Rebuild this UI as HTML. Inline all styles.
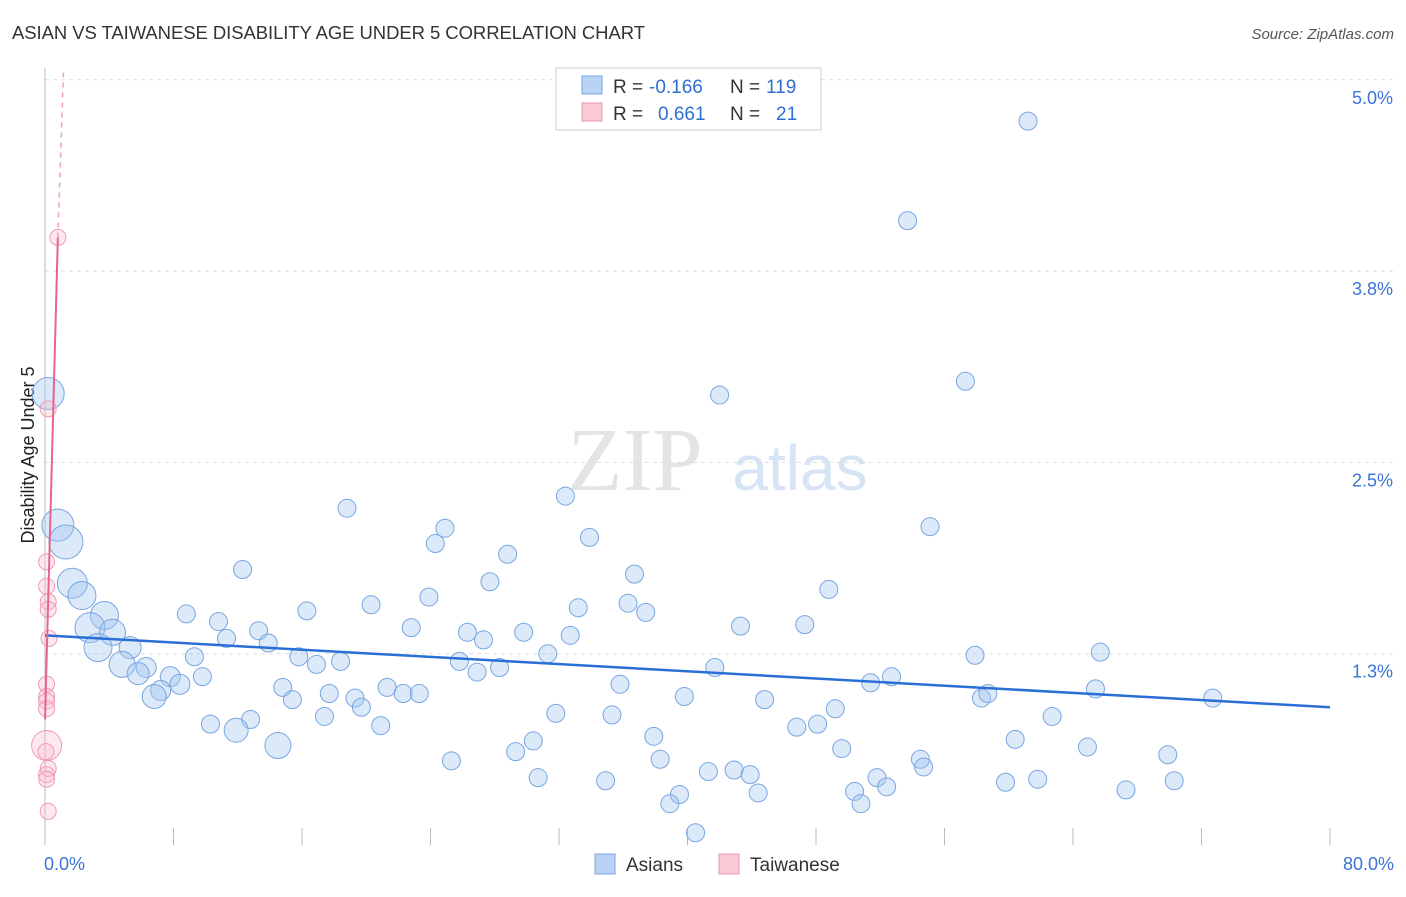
<!DOCTYPE html>
<html><head><meta charset="utf-8"><style>
body{margin:0;background:#fff;font-family:"Liberation Sans",sans-serif}
</style></head><body>
<svg id="c" width="1406" height="892" xmlns="http://www.w3.org/2000/svg">
<text x="12" y="39" font-size="18.5" fill="#333" textLength="633">ASIAN VS TAIWANESE DISABILITY AGE UNDER 5 CORRELATION CHART</text>
<text x="1394" y="39" font-size="15" fill="#555" font-style="italic" text-anchor="end">Source: ZipAtlas.com</text>
<text x="635" y="490" font-size="90" fill="#e4e4e4" font-family="Liberation Serif" text-anchor="middle">ZIP</text>
<text x="800" y="490" font-size="64" fill="#d6e4f5" text-anchor="middle">atlas</text>
<text transform="translate(34,455) rotate(-90)" font-size="18" fill="#222" text-anchor="middle">Disability Age Under 5</text>
<g id="grid"></g><g id="pts"></g><g id="lines"></g>
<g>
<rect x="556" y="68" width="265" height="62" fill="#fff" stroke="#ccc"/>
<rect x="582" y="76" width="20" height="18" fill="#b9d3f5" stroke="#7aa6e0"/>
<rect x="582" y="103" width="20" height="18" fill="#f9c9d6" stroke="#eb97ae"/>
<text x="613" y="93" font-size="19" fill="#333">R =</text>
<text x="649" y="93" font-size="19" fill="#2f6fd0">-0.166</text>
<text x="730" y="93" font-size="19" fill="#333">N =</text>
<text x="766" y="93" font-size="19" fill="#2f6fd0">119</text>
<text x="613" y="120" font-size="19" fill="#333">R =</text>
<text x="658" y="120" font-size="19" fill="#2f6fd0">0.661</text>
<text x="730" y="120" font-size="19" fill="#333">N =</text>
<text x="776" y="120" font-size="19" fill="#2f6fd0">21</text>
</g>
<g>
<rect x="595" y="854" width="20" height="20" fill="#b9d3f5" stroke="#7aa6e0"/>
<text x="626" y="871" font-size="19" fill="#333">Asians</text>
<rect x="719" y="854" width="20" height="20" fill="#f9c9d6" stroke="#eb97ae"/>
<text x="750" y="871" font-size="19" fill="#333">Taiwanese</text>
</g>
<text x="44" y="870" font-size="18" fill="#3b73d6">0.0%</text>
<text x="1394" y="870" font-size="18" fill="#3b73d6" text-anchor="end">80.0%</text>
</svg>
<script>
const yTicks=[5.0,3.75,2.5,1.25];
const yTickLabels=["5.0%","3.8%","2.5%","1.3%"];
const xTicks=[0,8,16,24,32,40,48,56,64,72,80];
const asianX=[61.2,53.7,57.3,42.0,32.4,18.8,55.1,24.9,24.3,33.9,28.8,12.3,36.7,27.7,48.8,23.9,20.3,36.3,33.2,8.8,16.3,37.4,10.8,43.3,47.3,22.8,26.3,29.8,32.7,13.3,11.3,27.3,13.9,31.3,15.8,18.4,16.9,25.8,9.3,28.3,26.9,41.7,57.9,65.7,52.7,51.4,35.8,9.8,14.8,17.7,21.3,22.3,23.3,15.4,19.3,19.7,39.8,44.8,58.3,58.7,65.4,72.7,49.2,31.8,35.3,62.7,17.4,12.8,10.3,20.9,46.8,48.1,37.9,30.4,60.4,49.6,29.3,64.9,69.9,54.5,25.3,38.3,54.7,41.3,42.9,43.9,30.7,34.9,51.8,59.8,61.8,70.3,52.4,44.4,50.4,67.3,39.5,38.9,50.8,40.5,0.2,0.8,1.3,1.7,2.3,3.7,2.8,4.2,3.3,5.3,4.8,6.3,5.8,7.8,8.4,7.2,6.8,11.9,14.5];
const asianY=[4.73,4.08,3.03,2.94,2.28,2.20,2.08,2.07,1.97,2.01,1.90,1.80,1.77,1.72,1.67,1.62,1.57,1.58,1.55,1.51,1.53,1.52,1.46,1.43,1.44,1.42,1.39,1.39,1.37,1.40,1.35,1.34,1.32,1.25,1.23,1.20,1.18,1.20,1.23,1.16,1.13,1.16,1.24,1.26,1.10,1.06,1.05,1.10,1.03,0.99,1.03,0.99,0.99,0.95,0.96,0.90,0.97,0.95,0.96,0.99,1.02,0.96,0.89,0.86,0.85,0.84,0.84,0.82,0.79,0.78,0.77,0.79,0.71,0.68,0.69,0.63,0.61,0.64,0.59,0.56,0.55,0.56,0.51,0.48,0.49,0.46,0.44,0.42,0.44,0.41,0.43,0.42,0.38,0.34,0.35,0.36,0.33,0.27,0.27,0.08,2.95,2.09,1.98,1.71,1.63,1.50,1.42,1.39,1.29,1.29,1.18,1.16,1.12,1.10,1.05,1.01,0.97,0.75,0.65];
const asianR=[9,9,9,9,9,9,9,9,9,9,9,9,9,9,9,9,9,9,9,9,9,9,9,9,9,9,9,9,9,9,9,9,9,9,9,9,9,9,9,9,9,9,9,9,9,9,9,9,9,9,9,9,9,9,9,9,9,9,9,9,9,9,9,9,9,9,9,9,9,9,9,9,9,9,9,9,9,9,9,9,9,9,9,9,9,9,9,9,9,9,9,9,9,9,9,9,9,9,9,9,16,16,17,15,14,14,15,13,14,11,13,10,11,10,10,10,12,12,13];
const taiX=[0.8,0.2,0.1,0.1,0.2,0.2,0.25,0.1,0.1,0.1,0.1,0.1,0.06,0.2,0.1,0.1,0.2];
const taiY=[3.97,2.85,1.85,1.69,1.59,1.54,1.35,1.05,0.97,0.94,0.89,0.65,0.61,0.50,0.46,0.43,0.22];
const taiR=[8,8,8,8,8,8,8,8,8,8,8,15,8,8,8,8,8];
const asianTrend=[[0,1.37],[80,0.90]];
const taiTrend=[[0,0.82],[0.8,3.97]];
const taiTrendDash=[[0.8,3.97],[1.15,5.05]];

const X=v=>45+v/80*1285, Y=v=>845-v/1.25*191.3;
const NS="http://www.w3.org/2000/svg";
function mk(t,a,p){const e=document.createElementNS(NS,t);for(const k in a)e.setAttribute(k,a[k]);p.appendChild(e);return e;}
const grid=document.getElementById('grid');
yTicks.forEach((t,i)=>{
 const l=mk('line',{x1:45,x2:1394,y1:Y(t),y2:Y(t),stroke:'#ddd','stroke-dasharray':'4 4'},grid);
 
 
 const tx=mk('text',{x:1393,y:Y(t)+24,'font-size':18,fill:'#3b73d6','text-anchor':'end'},grid);
 tx.textContent=yTickLabels[i];
 
 
});
const ax=mk('line',{x1:45,x2:45,y1:68,y2:845,stroke:'#bbb'},grid);


xTicks.forEach(t=>{
 const l=mk('line',{x1:X(t),x2:X(t),y1:t===0?68:828,y2:845,stroke:'#bbb'},grid);
 
 
});
const pts=document.getElementById('pts');
asianX.forEach((x,i)=>{
 const c=mk('circle',{cx:X(x),cy:Y(asianY[i]),r:asianR[i],fill:'rgba(160,196,240,0.38)',stroke:'#79a6e2','stroke-width':1},pts);
 
 
});
taiX.forEach((x,i)=>{
 const c=mk('circle',{cx:X(x),cy:Y(taiY[i]),r:taiR[i],fill:'rgba(248,190,206,0.35)',stroke:'#ef9ab2','stroke-width':1},pts);
 
 
});
const lines=document.getElementById('lines');
const a=mk('line',{x1:X(asianTrend[0][0]),y1:Y(asianTrend[0][1]),x2:X(asianTrend[1][0]),y2:Y(asianTrend[1][1]),stroke:'#2a6fd6','stroke-width':2.5},lines);


const b=mk('line',{x1:X(taiTrend[0][0]),y1:Y(taiTrend[0][1]),x2:X(taiTrend[1][0]),y2:Y(taiTrend[1][1]),stroke:'#e8648c','stroke-width':2},lines);


const d=mk('line',{x1:X(taiTrendDash[0][0]),y1:Y(taiTrendDash[0][1]),x2:X(taiTrendDash[1][0]),y2:Y(taiTrendDash[1][1]),stroke:'#f0a0b8','stroke-width':1.5,'stroke-dasharray':'5 5'},lines);


</script>
</body></html>
